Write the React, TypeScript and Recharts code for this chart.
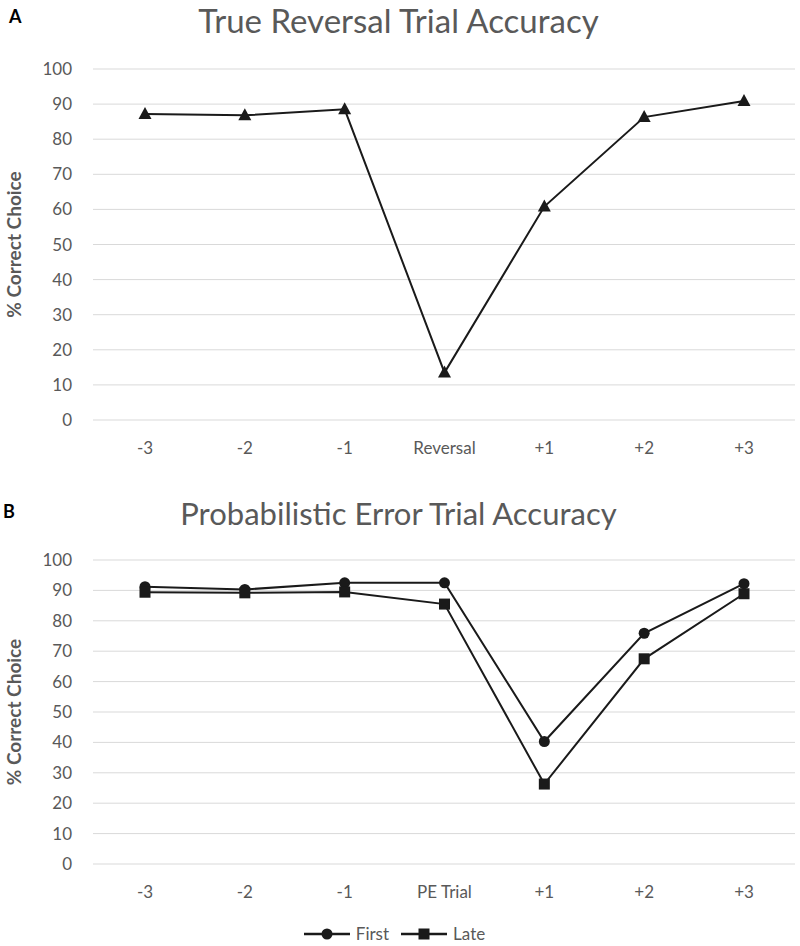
import React from 'react';
import { LineChart, Line, XAxis, YAxis, CartesianGrid, Legend } from 'recharts';

// panel A: true reversal
const reversalLabels = ['-3', '-2', '-1', 'Reversal', '+1', '+2', '+3'];
const reversalAccuracy = [87.2, 86.8, 88.5, 13.5, 60.8, 86.3, 90.9];

// panel B: probabilistic error
const peLabels = ['-3', '-2', '-1', 'PE Trial', '+1', '+2', '+3'];
const firstAccuracy = [91.2, 90.3, 92.5, 92.5, 40.3, 75.9, 92.2];
const lateAccuracy = [89.4, 89.2, 89.5, 85.5, 26.3, 67.5, 88.9];

const yTicks = [0, 10, 20, 30, 40, 50, 60, 70, 80, 90, 100];

const FONT = 'Lato, "Open Sans", sans-serif';
const GRAY = '#595959';
const LINE = '#1a1a1a';

const dataA = reversalLabels.map((label, i) => ({ label, acc: reversalAccuracy[i] }));
const dataB = peLabels.map((label, i) => ({ label, first: firstAccuracy[i], late: lateAccuracy[i] }));

const Triangle = (props: any) => {
  const { cx, cy, index } = props;
  if (cx == null || cy == null) return <g key={index} />;
  return <path key={index} d={`M${cx},${cy - 7} L${cx + 6.5},${cy + 5} L${cx - 6.5},${cy + 5} Z`} fill={LINE} />;
};

const Square = (props: any) => {
  const { cx, cy, index } = props;
  if (cx == null || cy == null) return <g key={index} />;
  return <rect key={index} x={cx - 5.5} y={cy - 5.5} width={11} height={11} fill={LINE} />;
};

const tickStyle = { fill: GRAY, fontSize: 17, fontFamily: FONT };
const xPad = { left: 52, right: 51 };

const yLabel = {
  value: '% Correct Choice',
  angle: -90,
  position: 'insideLeft' as const,
  offset: 14,
  style: { fill: GRAY, fontSize: 19, fontWeight: 700, fontFamily: FONT, textAnchor: 'middle' },
};

const LegendContent = () => (
  <div style={{ display: 'flex', justifyContent: 'center', gap: 12, fontFamily: FONT, fontSize: 17, color: GRAY, paddingRight: 6 }}>
    {[
      { name: 'First', shape: 'circle' },
      { name: 'Late', shape: 'square' },
    ].map((it) => (
      <div key={it.name} style={{ display: 'flex', alignItems: 'center', gap: 6 }}>
        <svg width={46} height={14}>
          <line x1={0} y1={7} x2={46} y2={7} stroke={LINE} strokeWidth={2.5} />
          {it.shape === 'circle' ? (
            <circle cx={23} cy={7} r={5.5} fill={LINE} />
          ) : (
            <rect x={17.5} y={1.5} width={11} height={11} fill={LINE} />
          )}
        </svg>
        <span>{it.name}</span>
      </div>
    ))}
  </div>
);

const titleStyle: React.CSSProperties = {
  position: 'absolute',
  left: 0,
  width: 797,
  textAlign: 'center',
  fontFamily: FONT,
  color: GRAY,
};

export default function App() {
  return (
    <div style={{ position: 'absolute', left: 0, top: 0, width: 800, height: 946, background: '#fff', overflow: 'hidden' }}>
      <div style={{ position: 'absolute', left: 9, top: 5, fontFamily: FONT, fontWeight: 700, fontSize: 18 }}>A</div>
      <div style={{ ...titleStyle, top: 0, fontSize: 33 }}>True Reversal Trial Accuracy</div>
      <div style={{ position: 'absolute', left: 0, top: 0 }}>
        <LineChart width={800} height={470} data={dataA} margin={{ top: 69, right: 5, left: 0, bottom: 20 }}>
          <CartesianGrid vertical={false} stroke="#d9d9d9" />
          <XAxis dataKey="label" axisLine={false} tickLine={false} tick={tickStyle} tickMargin={16} height={30} interval={0} padding={xPad} />
          <YAxis domain={[0, 100]} ticks={yTicks} axisLine={false} tickLine={false} tick={tickStyle} tickMargin={15} width={93} label={yLabel} />
          <Line dataKey="acc" stroke={LINE} strokeWidth={2} dot={Triangle} activeDot={false} isAnimationActive={false} />
        </LineChart>
      </div>

      <div style={{ position: 'absolute', left: 3, top: 500, fontFamily: FONT, fontWeight: 700, fontSize: 18 }}>B</div>
      <div style={{ ...titleStyle, top: 494, fontSize: 31 }}>Probabilistic Error Trial Accuracy</div>
      <div style={{ position: 'absolute', left: 0, top: 470 }}>
        <LineChart width={800} height={476} data={dataB} margin={{ top: 90, right: 5, left: 0, bottom: 22 }}>
          <CartesianGrid vertical={false} stroke="#d9d9d9" />
          <XAxis dataKey="label" axisLine={false} tickLine={false} tick={tickStyle} tickMargin={16} height={30} interval={0} padding={xPad} />
          <YAxis domain={[0, 100]} ticks={yTicks} axisLine={false} tickLine={false} tick={tickStyle} tickMargin={15} width={93} label={yLabel} />
          <Legend verticalAlign="bottom" height={30} content={LegendContent} wrapperStyle={{ bottom: -7 }} />
          <Line dataKey="first" name="First" stroke={LINE} strokeWidth={2} dot={{ r: 5.5, fill: LINE, stroke: 'none' }} activeDot={false} isAnimationActive={false} />
          <Line dataKey="late" name="Late" stroke={LINE} strokeWidth={2} dot={Square} activeDot={false} isAnimationActive={false} />
        </LineChart>
      </div>
    </div>
  );
}
